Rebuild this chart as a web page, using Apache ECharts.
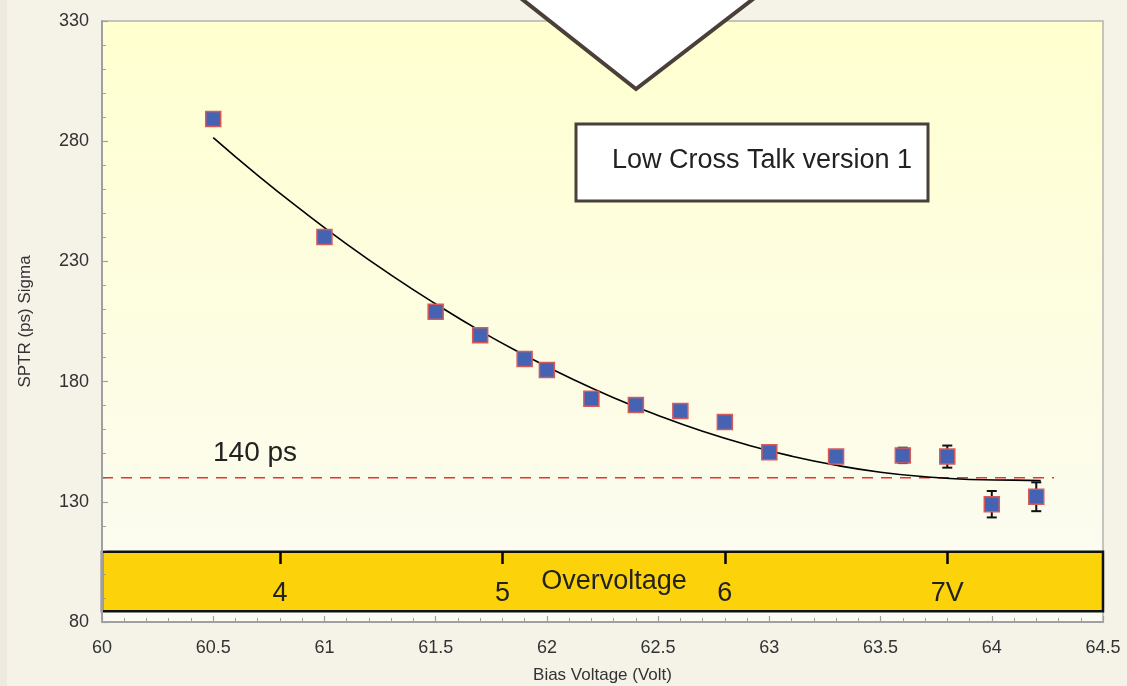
<!DOCTYPE html>
<html><head><meta charset="utf-8">
<script src="https://cdn.jsdelivr.net/npm/echarts@6/dist/echarts.min.js"></script>
<style>html,body{margin:0;padding:0;background:#F5F2E8;}#c{width:1127px;height:686px;}</style>
</head><body><div id="c"></div>
<script>
// ---- data ----
const biasVoltage = [60.5, 61.0, 61.5, 61.7, 61.9, 62.0, 62.2, 62.4, 62.6, 62.8, 63.0, 63.3, 63.6, 63.8, 64.0, 64.2];
const sptrSigma   = [289.2, 240.2, 209.1, 199.3, 189.4, 184.8, 172.9, 170.3, 167.8, 163.2, 150.6, 148.8, 149.3, 148.8, 129.0, 132.1];
const sigmaError  = [1.5, 1.2, 1.5, 1.2, 1.5, 1.5, 1.2, 1.2, 1.2, 1.5, 1.5, 1.3, 3.2, 4.6, 5.5, 6.0];
const fitVoltage  = [60.5, 60.7, 60.9, 61.1, 61.3, 61.5, 61.7, 61.9, 62.1, 62.3, 62.5, 62.7, 62.9, 63.1, 63.3, 63.5, 63.7, 63.9, 64.1, 64.22];
const fitSigma    = [281.5, 265.8, 251.1, 237.2, 224.3, 212.3, 201.1, 191.0, 181.7, 173.3, 165.9, 159.3, 153.7, 149.0, 145.2, 142.3, 140.4, 139.3, 139.0, 138.8];
const thresholdPs = 140;
const thresholdSpan = [60, 64.28];
const overvoltageTicks = [4, 5, 6, 7];
const breakdownVoltage = 56.8;
const biasRange = [60, 64.5];
const sigmaRange = [80, 330];
const bandSigma = [84.5, 109.2];

const FONT = 'Liberation Sans, Arial, sans-serif';
const chart = echarts.init(document.getElementById('c'));

const points = biasVoltage.map((v, i) => [v, sptrSigma[i], sigmaError[i]]);
const fit = fitVoltage.map((v, i) => [v, fitSigma[i]]);

chart.setOption({
  backgroundColor: '#F5F2E8',
  animation: false,
  grid: [
    { left: 102, right: 24, top: 21, bottom: 64, show: true, containLabel: false, outerBoundsMode: 'none',
      backgroundColor: new echarts.graphic.LinearGradient(0, 0, 0, 1, [
        { offset: 0, color: '#FFFFCF' }, { offset: 1, color: '#FBFBF4' }]),
      borderColor: '#B4B4B0', borderWidth: 1.5 },
    { left: 102, right: 24, top: 540, height: 12, show: false, containLabel: false, outerBoundsMode: 'none' }
  ],
  xAxis: [
    { gridIndex: 0, type: 'value', min: biasRange[0], max: biasRange[1], interval: 0.5,
      name: 'Bias Voltage (Volt)', nameLocation: 'middle', nameGap: 45,
      nameTextStyle: { fontFamily: FONT, fontSize: 17, color: '#333' },
      axisLine: { show: true, lineStyle: { color: '#A0A0A0', width: 2 } },
      axisTick: { show: true, inside: true, length: 6, lineStyle: { color: '#A0A0A0', width: 1.2 } },
      minorTick: { show: true, splitNumber: 5, length: 4, lineStyle: { color: '#A0A0A0', width: 1 } },
      splitLine: { show: false },
      axisLabel: { fontFamily: FONT, fontSize: 18, color: '#333', margin: 17 } },
    { gridIndex: 1, type: 'value', position: 'bottom',
      min: biasRange[0] - breakdownVoltage, max: biasRange[1] - breakdownVoltage,
      axisLine: { show: false },
      axisTick: { show: true, inside: false, length: 12, customValues: overvoltageTicks,
        lineStyle: { color: '#000', width: 2.5 } },
      axisLabel: { show: true, inside: false, margin: 28, customValues: overvoltageTicks,
        fontFamily: FONT, fontSize: 27, color: '#222', hideOverlap: false,
        showMinLabel: true, showMaxLabel: true,
        formatter: v => (v === overvoltageTicks[overvoltageTicks.length - 1] ? v + 'V' : String(v)) },
      splitLine: { show: false }, z: 20 }
  ],
  yAxis: [
    { gridIndex: 0, type: 'value', min: sigmaRange[0], max: sigmaRange[1], interval: 50,
      name: 'SPTR (ps) Sigma', nameLocation: 'middle', nameGap: 68,
      nameTextStyle: { fontFamily: FONT, fontSize: 17, color: '#333' },
      axisLine: { show: true, lineStyle: { color: '#A0A0A0', width: 2 } },
      axisTick: { show: true, inside: true, length: 6, lineStyle: { color: '#A0A0A0', width: 1.2 } },
      minorTick: { show: true, splitNumber: 5, length: 4, lineStyle: { color: '#A0A0A0', width: 1 } },
      splitLine: { show: false },
      axisLabel: { fontFamily: FONT, fontSize: 18, color: '#333', margin: 13 }, z: 10 },
    { gridIndex: 1, type: 'value', min: 0, max: 1, show: false }
  ],
  series: [
    { // overvoltage band
      type: 'line', xAxisIndex: 0, yAxisIndex: 0, data: [], silent: true, z: 1,
      markArea: { silent: true,
        itemStyle: { color: '#FCD20B', borderColor: '#111', borderWidth: 2.5 },
        data: [[{ coord: [biasRange[0], bandSigma[0]] }, { coord: [biasRange[1], bandSigma[1]] }]] } },
    { // 140 ps threshold
      type: 'line', xAxisIndex: 0, yAxisIndex: 0, silent: true, symbol: 'none', z: 3,
      data: thresholdSpan.map(v => [v, thresholdPs]),
      lineStyle: { color: '#F03030', width: 1.7, type: [11, 8] } },
    { // fitted curve
      type: 'line', xAxisIndex: 0, yAxisIndex: 0, silent: true, symbol: 'none', smooth: true, z: 4,
      data: fit, lineStyle: { color: '#000', width: 1.6 } },
    { // error bars
      type: 'custom', xAxisIndex: 0, yAxisIndex: 0, silent: true, z: 5,
      data: points,
      renderItem: function (params, api) {
        const x = api.value(0), y = api.value(1), e = api.value(2);
        const t = api.coord([x, y + e]), b = api.coord([x, y - e]);
        const hw = 5;
        const st = { stroke: '#111', lineWidth: 2 };
        return { type: 'group', children: [
          { type: 'line', shape: { x1: t[0], y1: t[1], x2: b[0], y2: b[1] }, style: st },
          { type: 'line', shape: { x1: t[0] - hw, y1: t[1], x2: t[0] + hw, y2: t[1] }, style: st },
          { type: 'line', shape: { x1: b[0] - hw, y1: b[1], x2: b[0] + hw, y2: b[1] }, style: st }
        ]};
      } },
    { // data points
      type: 'scatter', xAxisIndex: 0, yAxisIndex: 0, z: 6,
      data: points, symbol: 'rect', symbolSize: 15,
      itemStyle: { color: '#4663B3', borderColor: '#D65A5A', borderWidth: 1.5, opacity: 1 } },
    { type: 'line', xAxisIndex: 1, yAxisIndex: 1, data: [], silent: true }
  ],
  graphic: [
    { type: 'rect', left: 0, top: 0, shape: { width: 7, height: 686 }, style: { fill: '#EEEAE0' }, silent: true },
    { type: 'polygon', z: 100, shape: { points: [[518, -4], [636, 89], [757, -4]] },
      style: { fill: '#FFFFFF', stroke: '#4A4039', lineWidth: 4, lineJoin: 'miter' } },
    { type: 'rect', z: 100, shape: { x: 576, y: 124, width: 352, height: 77 },
      style: { fill: '#FFFFFF', stroke: '#4A4039', lineWidth: 3 } },
    { type: 'text', z: 101, style: { x: 612, y: 161, text: 'Low Cross Talk version 1',
      font: '27px ' + FONT, fill: '#222', verticalAlign: 'middle', align: 'left' } },
    { type: 'text', z: 101, style: { x: 213, y: 453, text: '140 ps',
      font: '28px ' + FONT, fill: '#222', verticalAlign: 'middle', align: 'left' } },
    { type: 'text', z: 101, style: { x: 614, y: 582, text: 'Overvoltage',
      font: '27px ' + FONT, fill: '#222', verticalAlign: 'middle', align: 'center' } }
  ]
});
</script>
</body></html>
